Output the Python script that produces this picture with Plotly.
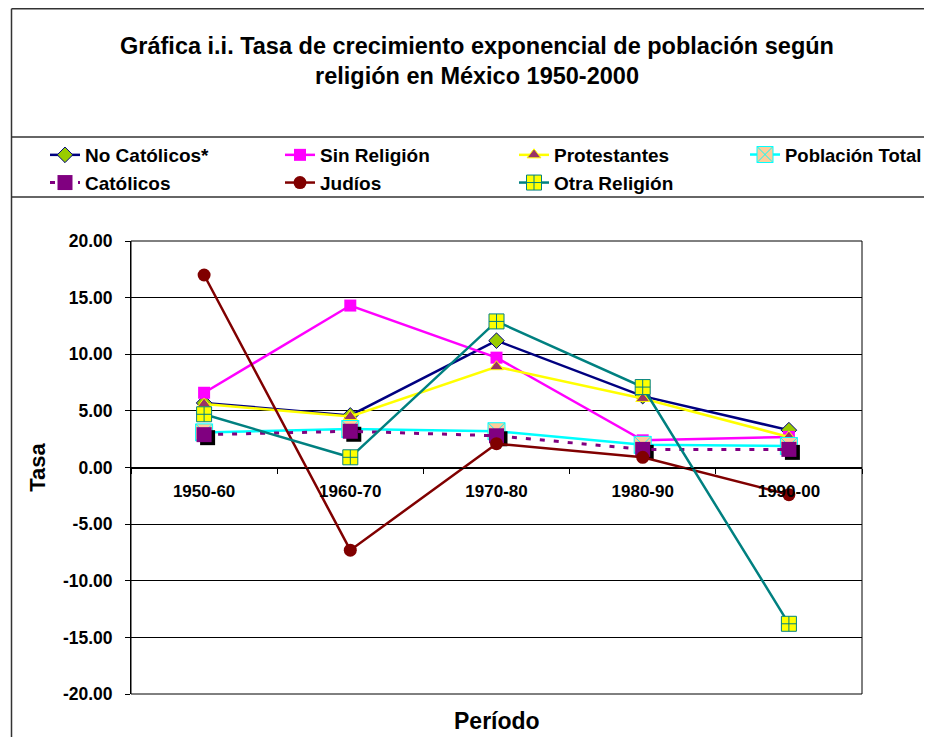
import plotly.graph_objects as go

# ---------------- data ----------------
periodos = ["1950-60", "1960-70", "1970-80", "1980-90", "1990-00"]
no_catolicos = [5.7, 4.6, 11.2, 6.3, 3.3]
sin_religion = [6.6, 14.3, 9.7, 2.4, 2.7]
protestantes = [5.6, 4.5, 8.9, 6.1, 2.7]
poblacion_total = [3.1, 3.4, 3.2, 2.0, 1.9]
catolicos = [2.9, 3.2, 2.8, 1.6, 1.6]
judios = [17.0, -7.3, 2.1, 0.9, -2.4]
otra_religion = [4.7, 0.9, 12.9, 7.1, -13.8]

y_ticks = [20, 15, 10, 5, 0, -5, -10, -15, -20]
y_tick_labels = ["20.00", "15.00", "10.00", "5.00", "0.00", "-5.00", "-10.00", "-15.00", "-20.00"]

# ---------------- layout geometry ----------------
OFF = 8                      # page body margin of the exported html
W, H = 932 - OFF, 737 - OFF
L, R, T, B = 131 - OFF, 70, 241 - OFF, 43
PW, PH = W - L - R, H - T - B
FONT = "Liberation Sans, Arial, sans-serif"


def px_x(px):                # reference-picture x -> paper
    return (px - OFF - L) / PW


def px_y(py):                # reference-picture y -> paper
    return (H - B - (py - OFF)) / PH


# shadow offset for the Católicos markers (pixels -> axis units)
cat_px = PW / len(periodos)
unit_px = PH / 40.0
dx = 3.5 / cat_px
dy = 3.0 / unit_px

fig = go.Figure()

# main subplot
fig.add_trace(go.Scatter(
    x=periodos, y=no_catolicos, name="No Católicos*", mode="lines+markers",
    line=dict(color="#000080", width=2.5),
    marker=dict(symbol="diamond", size=12, color="#99CC00", line=dict(color="#000080", width=1)),
    legend="legend"))
fig.add_trace(go.Scatter(
    x=periodos, y=sin_religion, name="Sin Religión", mode="lines+markers",
    line=dict(color="#FF00FF", width=2.5),
    marker=dict(symbol="square", size=12, color="#FF00FF"),
    legend="legend2"))
fig.add_trace(go.Scatter(
    x=periodos, y=protestantes, name="Protestantes", mode="lines+markers",
    line=dict(color="#FFFF00", width=2.5),
    marker=dict(symbol="triangle-up", size=12, color="#993366", line=dict(color="#FFFF00", width=1)),
    legend="legend3"))
fig.add_trace(go.Scatter(
    x=periodos, y=poblacion_total, name="Población Total", mode="lines+markers",
    line=dict(color="#00FFFF", width=2.5),
    marker=dict(symbol="square-x", size=17, color="#FFCC99", line=dict(color="#00FFFF", width=1)),
    legend="legend4"))

# shadow of the Católicos markers (offset axes)
fig.add_trace(go.Scatter(
    x=periodos, y=catolicos, mode="markers", showlegend=False, hoverinfo="skip",
    marker=dict(symbol="square", size=15, color="#000000"),
    xaxis="x2", yaxis="y2"))

# top subplot
fig.add_trace(go.Scatter(
    x=periodos, y=catolicos, name="Católicos", mode="lines+markers",
    line=dict(color="#800080", width=3, dash="5px,9px"),
    marker=dict(symbol="square", size=15, color="#800080"),
    xaxis="x3", yaxis="y3", legend="legend"))
fig.add_trace(go.Scatter(
    x=periodos, y=judios, name="Judíos", mode="lines+markers",
    line=dict(color="#800000", width=2.5),
    marker=dict(symbol="circle", size=13, color="#800000"),
    xaxis="x3", yaxis="y3", legend="legend2"))
fig.add_trace(go.Scatter(
    x=periodos, y=otra_religion, name="Otra Religión", mode="lines+markers",
    line=dict(color="#008080", width=2.5),
    marker=dict(symbol="square-cross", size=15, color="#FFFF00", line=dict(color="#008080", width=1)),
    xaxis="x3", yaxis="y3", legend="legend3"))

xr = [-0.5, len(periodos) - 0.5]
yr = [-20, 20]


def legend_at(x_ref, size=19):
    return dict(
        orientation="v", xanchor="left", yanchor="top", y=px_y(136), x=px_x(x_ref),
        font=dict(family=FONT, size=size, color="#000000", weight="bold"),
        bgcolor="rgba(0,0,0,0)", borderwidth=0, tracegroupgap=0,
    )


fig.update_layout(
    width=W, height=H,
    margin=dict(l=L, r=R, t=T, b=B, autoexpand=False),
    paper_bgcolor="white", plot_bgcolor="white",
    font=dict(family=FONT, color="#000000"),
    title=dict(
        text="Gráfica i.i. Tasa de crecimiento exponencial de población según<br>religión en México 1950-2000",
        x=(477 - OFF) / W, xref="container", xanchor="center",
        y=1 - 45.5 / H, yref="container", yanchor="middle",
        font=dict(family=FONT, size=23.5, color="#000000", weight="bold"),
    ),
    xaxis=dict(
        type="category", categoryorder="array", categoryarray=periodos,
        range=xr, anchor="free", position=0.5,
        showgrid=False, zeroline=False,
        showline=True, linecolor="#000000", linewidth=1,
        ticks="outside", ticklen=5, tickcolor="#000000", tickson="boundaries",
        ticklabelstandoff=8,
        tickfont=dict(family=FONT, size=17, color="#000000", weight="bold"),
    ),
    yaxis=dict(
        range=yr, tickvals=y_ticks, ticktext=y_tick_labels,
        showgrid=True, gridcolor="#000000", gridwidth=1,
        zeroline=True, zerolinecolor="#000000", zerolinewidth=1,
        showline=True, linecolor="#000000", linewidth=1,
        ticks="outside", ticklen=5, tickcolor="#000000",
        ticklabelstandoff=9,
        tickfont=dict(family=FONT, size=17.5, color="#000000", weight="bold"),
        title=dict(text="Tasa", standoff=11,
                   font=dict(family=FONT, size=22, color="#000000", weight="bold")),
    ),
    xaxis2=dict(type="category", categoryorder="array", categoryarray=periodos,
                overlaying="x", anchor="y2", visible=False,
                range=[xr[0] - dx, xr[1] - dx]),
    yaxis2=dict(overlaying="y", anchor="x2", visible=False,
                range=[yr[0] + dy, yr[1] + dy]),
    xaxis3=dict(type="category", categoryorder="array", categoryarray=periodos,
                overlaying="x", anchor="y3", visible=False, range=xr),
    yaxis3=dict(overlaying="y", anchor="x3", visible=False, range=yr),
    legend=legend_at(45),
    legend2=legend_at(280),
    legend3=legend_at(514),
    legend4=legend_at(745, 18.5),
    showlegend=True,
)

# plot-area frame
fig.add_shape(type="rect", xref="x domain", yref="y domain", x0=0, x1=1, y0=0, y1=1,
              line=dict(color="#000000", width=1), layer="below")

# outer chart border lines (title box / legend box)
border = dict(color="#333333", width=1.5)
fig.add_shape(type="line", xref="paper", yref="paper",
              x0=px_x(11.5), x1=px_x(11.5), y0=px_y(8.8), y1=px_y(760), line=border)
for py in (8.8, 137, 197):
    fig.add_shape(type="line", xref="paper", yref="paper",
                  x0=px_x(11.5), x1=px_x(960), y0=px_y(py), y1=px_y(py), line=border)

# x-axis title
fig.add_annotation(text="Período", xref="paper", yref="paper", x=0.5, y=px_y(721),
                   xanchor="center", yanchor="middle", showarrow=False,
                   font=dict(family=FONT, size=23, color="#000000", weight="bold"))

fig.write_html("out.html")
